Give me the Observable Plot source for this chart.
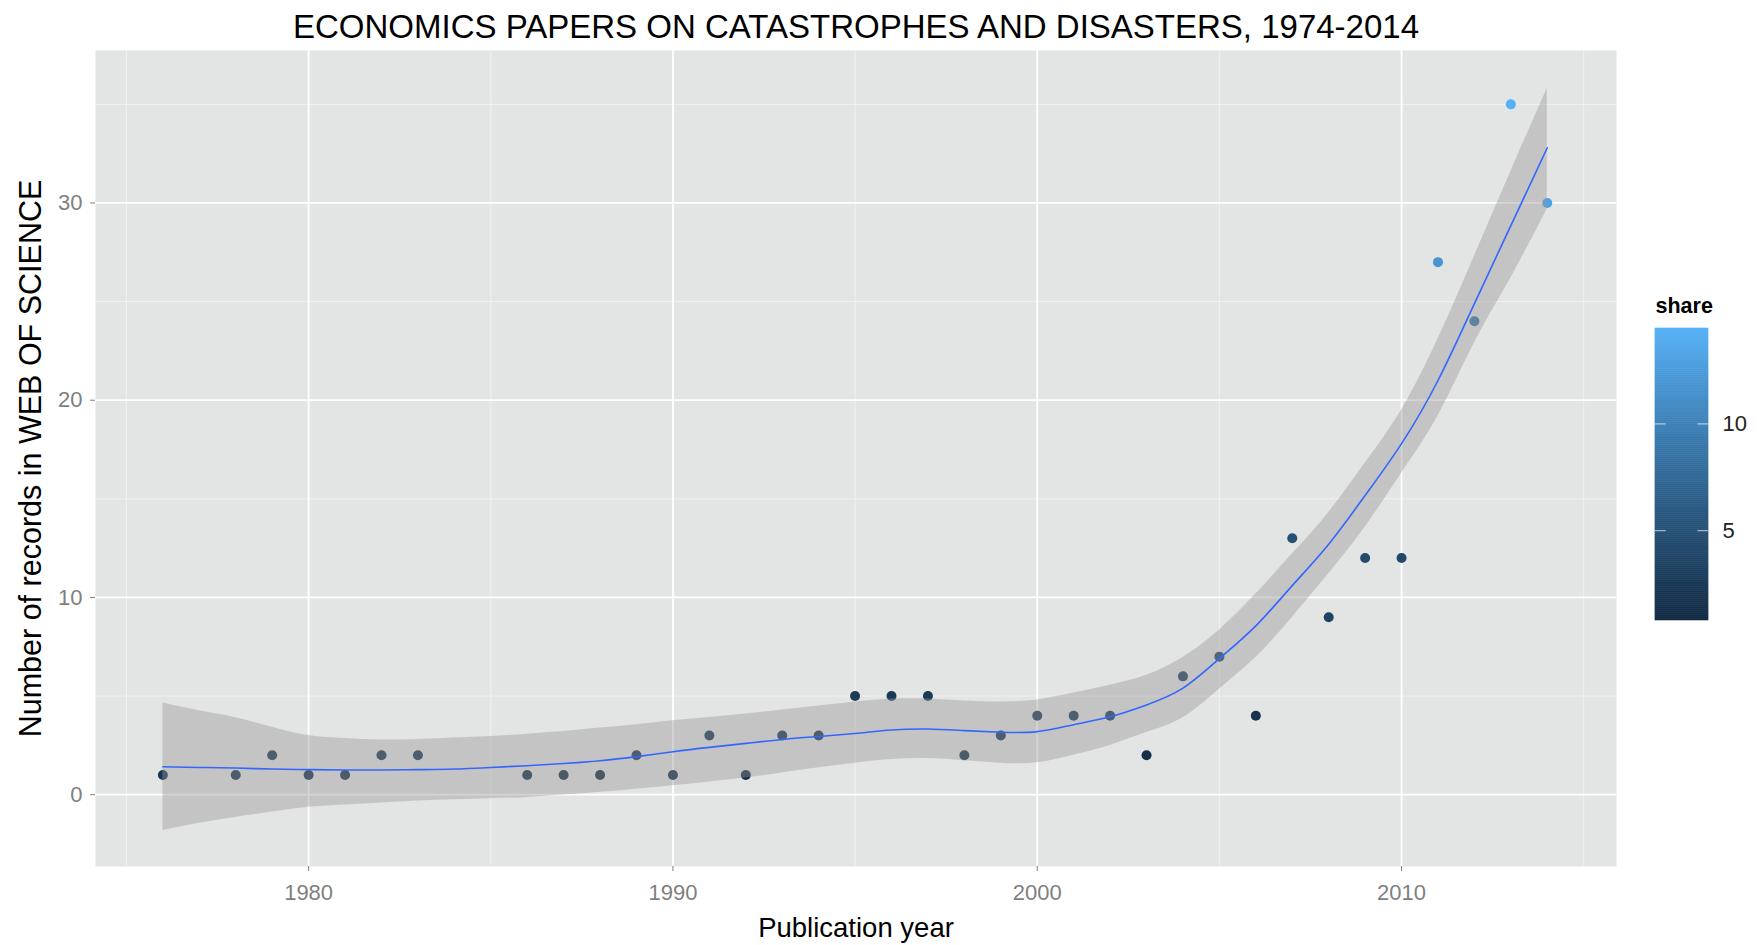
<!DOCTYPE html>
<html>
<head>
<meta charset="utf-8">
<script src="https://cdn.jsdelivr.net/npm/d3@7"></script>
<script src="https://cdn.jsdelivr.net/npm/@observablehq/plot@0.6"></script>
<style>
  html, body { margin: 0; padding: 0; background: #ffffff; }
  #wrap { position: relative; width: 1757px; height: 945px; overflow: hidden; font-family: "Liberation Sans", Arial, sans-serif; }
  #main { position: absolute; left: 0; top: 0; }
  #legend { position: absolute; left: 1640px; top: 280px; }
</style>
</head>
<body>
<div id="wrap"><div id="main"></div><div id="legend"></div></div>
<script>
const years   = [1976,1978,1979,1980,1981,1982,1983,1986,1987,1988,1989,1990,1991,1992,1993,1994,1995,1996,1997,1998,1999,2000,2001,2002,2003,2004,2005,2006,2007,2008,2009,2010,2011,2012,2013,2014];
const records = [1,1,2,1,1,2,2,1,1,1,2,1,3,1,3,3,5,5,5,2,3,4,4,4,2,6,7,4,13,9,12,12,27,24,35,30];
const shares  = [2.0,1.5,2.0,1.2,1.0,1.8,1.7,1.0,1.0,0.9,1.6,0.79,2.0,0.9,1.8,1.7,2.6,2.5,2.4,1.3,1.8,2.3,2.2,2.1,1.2,3.0,3.4,1.6,5.0,3.5,4.2,4.0,11.8,8.5,14.47,13.0];

// ---- smoother (fitted line and its band) ----
const fitYears = [1976,1977,1978,1979,1980,1981,1982,1983,1984,1985,1986,1987,1988,1989,1990,1991,1992,1993,1994,1995,1996,1997,1998,1999,2000,2001,2002,2003,2004,2005,2006,2007,2008,2009,2010,2011,2012,2013,2014];
const fitValues = [1.42,1.38,1.35,1.30,1.27,1.25,1.25,1.27,1.30,1.38,1.47,1.58,1.72,1.93,2.18,2.40,2.60,2.80,2.95,3.10,3.28,3.33,3.25,3.17,3.20,3.55,3.95,4.55,5.40,6.90,8.56,10.60,12.70,15.17,17.80,21.00,24.90,28.85,32.80];
const fitLower  = [-1.82,-1.45,-1.15,-0.88,-0.64,-0.52,-0.42,-0.32,-0.25,-0.20,-0.14,-0.02,0.12,0.28,0.46,0.65,0.85,1.10,1.37,1.60,1.78,1.83,1.72,1.60,1.62,2.00,2.50,3.15,3.90,5.35,6.95,8.98,11.20,13.56,16.30,19.20,22.90,26.20,29.70];
const fitUpper  = [4.65,4.25,3.90,3.42,3.00,2.85,2.77,2.80,2.87,2.95,3.07,3.20,3.38,3.55,3.75,3.92,4.09,4.30,4.50,4.70,4.85,4.85,4.75,4.70,4.80,5.15,5.55,6.05,6.95,8.35,10.17,12.20,14.30,16.80,19.50,23.10,27.30,31.60,35.80];

const xTicks = [1980,1990,2000,2010];
const xMinor = [1975,1985,1995,2005,2015];
const yTicks = [0,10,20,30];
const yMinor = [5,15,25,35];
const legendTicks = [5,10];

const titleText = "ECONOMICS PAPERS ON CATASTROPHES AND DISASTERS, 1974-2014";
const xLabel = "Publication year";
const yLabel = "Number of records in WEB OF SCIENCE";
const legendTitle = "share";

// ---- tables ----
const points = years.map((y, i) => ({year: y, records: records[i], share: shares[i]}));
const smooth = fitYears.map((y, i) => ({year: y, fit: fitValues[i], lo: fitLower[i], hi: fitUpper[i]}));

const shareMin = d3.min(shares), shareMax = d3.max(shares);
const colorScale = {type: "linear", domain: [shareMin, shareMax], range: ["#132B43", "#56B1F7"], interpolate: "lab"};
const font = "'Liberation Sans', Arial, Helvetica, sans-serif";

const main = Plot.plot({
  width: 1757,
  height: 945,
  marginLeft: 95,
  marginRight: 141,
  marginTop: 50,
  marginBottom: 79,
  style: {fontFamily: font, background: "white", overflow: "visible"},
  x: {domain: [1974.15, 2015.9]},
  y: {domain: [-3.64, 37.73]},
  color: colorScale,
  marks: [
    Plot.frame({fill: "#E3E4E4", stroke: null}),
    Plot.ruleX(xMinor, {stroke: "#F0F1F1", strokeWidth: 1}),
    Plot.ruleY(yMinor, {stroke: "#F0F1F1", strokeWidth: 1}),
    Plot.ruleX(xTicks, {stroke: "#FFFFFF", strokeWidth: 1.8}),
    Plot.ruleY(yTicks, {stroke: "#FFFFFF", strokeWidth: 1.8}),
    Plot.dot(points, {x: "year", y: "records", fill: "share", r: 5, stroke: null}),
    Plot.areaY(smooth, {x: "year", y1: "lo", y2: "hi", fill: "#999999", fillOpacity: 0.42, curve: "natural"}),
    Plot.lineY(smooth, {x: "year", y: "fit", stroke: "#3366FF", strokeWidth: 1.6, curve: "natural"}),
    Plot.axisX({ticks: xTicks, tickFormat: d => String(d), tickSize: 5, tickPadding: 13, fontSize: 22, color: "#7F7F7F", label: null}),
    Plot.axisY({ticks: yTicks, tickFormat: d => String(d), tickSize: 5, tickPadding: 8, fontSize: 22, color: "#7F7F7F", label: null}),
    Plot.text([titleText], {text: d => d, frameAnchor: "top", lineAnchor: "middle", dy: -23, fontSize: 33, fill: "#000000"}),
    Plot.text([xLabel], {text: d => d, frameAnchor: "bottom", lineAnchor: "middle", dy: 62, fontSize: 27.5, fill: "#000000"}),
    Plot.text([yLabel], {text: d => d, frameAnchor: "left", textAnchor: "middle", lineAnchor: "middle", dx: -64, rotate: -90, fontSize: 30.5, fill: "#000000"})
  ]
});
document.getElementById("main").appendChild(main);

// ---- colour bar legend ----
const nSlices = 150;
const slices = d3.range(nSlices).map(i => {
  const a = shareMin + (shareMax - shareMin) * i / nSlices;
  const b = shareMin + (shareMax - shareMin) * (i + 1) / nSlices;
  return {a, b, m: (a + b) / 2};
});
const legend = Plot.plot({
  width: 117,
  height: 350,
  marginLeft: 15,
  marginRight: 49,
  marginTop: 48,
  marginBottom: 10,
  style: {fontFamily: font, background: "transparent", overflow: "visible"},
  x: {domain: [0, 1], axis: null},
  y: {domain: [shareMin, shareMax], axis: null},
  color: colorScale,
  marks: [
    Plot.rect(slices, {x1: 0, x2: 1, y1: "a", y2: "b", fill: "m", stroke: "m", strokeWidth: 0.6}),
    Plot.ruleY(legendTicks, {x1: 0, x2: 0.2, stroke: "#FFFFFF", strokeOpacity: 0.6, strokeWidth: 1.2}),
    Plot.ruleY(legendTicks, {x1: 0.8, x2: 1, stroke: "#FFFFFF", strokeOpacity: 0.6, strokeWidth: 1.2}),
    Plot.axisY({anchor: "right", ticks: legendTicks, tickSize: 0, tickPadding: 14, fontSize: 22, color: "#222222", label: null}),
    Plot.text([legendTitle], {text: d => d, frameAnchor: "top-left", lineAnchor: "middle", dy: -22, textAnchor: "start", fontSize: 21.5, fontWeight: "bold", fill: "#000000"})
  ]
});
document.getElementById("legend").appendChild(legend);
</script>
</body>
</html>
